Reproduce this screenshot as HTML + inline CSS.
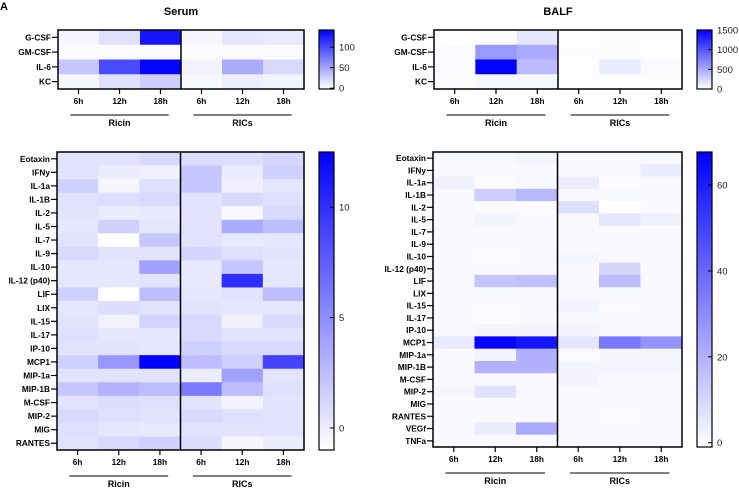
<!DOCTYPE html>
<html><head><meta charset="utf-8"><style>
body{margin:0;background:#fff;}
svg{display:block;font-family:"Liberation Sans",Arial,sans-serif;}
</style></head><body>
<svg id="fig" width="739" height="490"></svg>
<script>
const timepoints = ["6h","12h","18h","6h","12h","18h"];
const groups = ["Ricin","RICs"];
const topRows = ["G-CSF","GM-CSF","IL-6","KC"];
const serumLowRows = ["Eotaxin","IFNy","IL-1a","IL-1B","IL-2","IL-5","IL-7","IL-9","IL-10","IL-12 (p40)","LIF","LIX","IL-15","IL-17","IP-10","MCP1","MIP-1a","MIP-1B","M-CSF","MIP-2","MIG","RANTES"];
const balfLowRows = ["Eotaxin","IFNy","IL-1a","IL-1B","IL-2","IL-5","IL-7","IL-9","IL-10","IL-12 (p40)","LIF","LIX","IL-15","IL-17","IP-10","MCP1","MIP-1a","MIP-1B","M-CSF","MIP-2","MIG","RANTES","VEGf","TNFa"];
const serumTopValues = [
 [3,15,130,3,12,10],
 [0,0,0,0,0,0],
 [30,100,140,5,45,20],
 [3,15,25,2,8,5]];
const serumLowValues = [
 [0.5,0.5,1,0.8,0.8,1.2],
 [0.5,0,-0.2,2,0,1.5],
 [1.5,-0.5,0.7,2,-0.2,0.3],
 [0.5,0.8,1,0.5,1,0.7],
 [0.5,0,0.2,0.5,-0.7,1],
 [0.3,1.5,0.3,0.5,3.5,2.5],
 [0.5,-1,2,0.5,0.2,0.3],
 [1,0.5,0.5,1.3,0.7,0.5],
 [0.3,0.3,4,0.2,2,0.3],
 [0.3,0.3,0.5,0.2,10,0.3],
 [1.5,-1,2.5,0.3,0.5,2.5],
 [0.3,0.8,0.5,0.5,0.3,0.3],
 [0.5,-0.3,1.3,1,-0.2,1],
 [0.7,0.3,0.3,1,0.5,0.5],
 [0.5,0.5,0.3,1.5,1,1],
 [1.5,4.5,12.5,2.5,1.5,9],
 [0.5,0.5,0.5,0,4,0.5],
 [2,3,2.5,6,2.5,0.7],
 [0.5,0.8,0.7,0.5,-0.3,0.5],
 [1,0.7,0.5,1,0.7,0.5],
 [0.7,0.3,0.2,0.5,0.5,0.5],
 [0.5,1,1.5,0.8,-0.5,0]];
const balfTopValues = [
 [10,20,150,10,20,20],
 [30,600,500,20,20,10],
 [30,1500,400,10,120,30],
 [20,50,50,10,10,10]];
const balfLowValues = [
 [1,1,2,0.5,0.5,1],
 [0.5,0.5,0.5,0.5,0.5,4],
 [3,0,1,4,0,1],
 [0.5,12,18,1,1,0.5],
 [0.5,0,0,8,-1,0.5],
 [0.5,2,0.5,0.5,6,3],
 [0.5,0.5,0.5,0.5,0.5,0.5],
 [0.5,0.5,0.5,0.5,0.5,0.5],
 [0.5,0.3,0.5,1.5,0.5,0.5],
 [0.5,0.5,0.5,0.5,10,0.5],
 [1,15,16,0.5,17,0.5],
 [0.5,1,1,1,1,1],
 [0.5,0.3,0.5,2,0.3,0.5],
 [0.5,0.3,0.5,1,0.5,0.5],
 [1,2,2,2,1,1],
 [5,67,62,6,35,28],
 [0.5,2,20,0,1.5,1.5],
 [0.5,20,20,2,2,2],
 [0.5,0.5,0.5,2,0.5,0.5],
 [1.5,7,1,0.5,0.5,0.5],
 [0.5,0.5,0.5,0.5,0.5,0.5],
 [0.5,0.5,0.5,0.5,0,0.5],
 [0.5,4,22,0.5,0.5,0.5],
 [0.5,0.5,0.5,0.5,0.5,0.5]];
const serumTopTicks = [0,50,100];
const serumLowTicks = [0,5,10];
const balfTopTicks = [0,500,1000,1500];
const balfLowTicks = [0,20,40,60];

const NS="http://www.w3.org/2000/svg";
const svg=document.getElementById('fig');
function el(tag,attrs,parent,text){const e=document.createElementNS(NS,tag);for(const k in attrs)e.setAttribute(k,attrs[k]);if(text!==undefined)e.textContent=text;(parent||svg).appendChild(e);return e;}
function color(t){t=Math.max(0,Math.min(1,t));const c=Math.round(255*(1-t));return `rgb(${c},${c},255)`;}

function heatmap(p){
  const g=el('g',{});
  
  
  const nR=p.rows.length,nC=timepoints.length;
  const cw=(p.x1-p.x0)/nC,rh=(p.y1-p.y0)/nR;
  const sc=v=>(v-p.vmin)/(p.vmax-p.vmin);
  p.values.forEach((row,i)=>row.forEach((v,j)=>{
    const r=el('rect',{x:p.x0+j*cw,y:p.y0+i*rh,width:cw+0.4,height:rh+0.4,fill:color(sc(v))},g);
    
    
  }));
  el('rect',{x:p.x0,y:p.y0,width:p.x1-p.x0,height:p.y1-p.y0,fill:'none',stroke:'#000','stroke-width':1.5},g);
  const mid=p.x0+3*cw;
  el('line',{x1:mid,x2:mid,y1:p.y0,y2:p.y1,stroke:'#000','stroke-width':1.5},g);
  p.rows.forEach((name,i)=>{
    const y=p.y0+(i+0.5)*rh;
    el('line',{x1:p.x0-6,x2:p.x0,y1:y,y2:y,stroke:'#000','stroke-width':1.2},g);
    const t=el('text',{x:p.x0-7,y:y+3,'text-anchor':'end','font-size':8.3,'font-weight':'bold'},g,name);
    
    
  });
  timepoints.forEach((tp,j)=>{
    const x=p.x0+(j+0.5)*cw;
    el('line',{x1:x,x2:x,y1:p.y1,y2:p.y1+5,stroke:'#000','stroke-width':1.2},g);
    const t=el('text',{x:x,y:p.y1+15,'text-anchor':'middle','font-size':8.3,'font-weight':'bold'},g,tp);
    
    
  });
  groups.forEach((gn,k)=>{
    const a=p.x0+k*3*cw+cw*0.3,b=p.x0+(k*3+3)*cw-cw*0.3;
    el('line',{x1:a,x2:b,y1:p.y1+26,y2:p.y1+26,stroke:'#555','stroke-width':1.4},g);
    const t=el('text',{x:(a+b)/2,y:p.y1+37,'text-anchor':'middle','font-size':9,'font-weight':'bold'},g,gn);
    
    
  });
  // colorbar
  const cb=el('g',{},g);
  
  
  const gid='grad'+p.name;
  const defs=el('defs',{},cb);
  const lg=el('linearGradient',{id:gid,x1:0,y1:1,x2:0,y2:0},defs);
  el('stop',{offset:0,'stop-color':'#fff'},lg);
  el('stop',{offset:1,'stop-color':'#0000ff'},lg);
  el('rect',{x:p.cx,y:p.y0,width:15,height:p.y1-p.y0,fill:`url(#${gid})`,stroke:'#000','stroke-width':1.2},cb);
  p.ticks.forEach(v=>{
    const y=p.y1-sc(v)*(p.y1-p.y0);
    el('line',{x1:p.cx+15,x2:p.cx+11,y1:y,y2:y,stroke:'#000','stroke-width':1},cb);
    const t=el('text',{x:p.cx+20,y:y+3.5,'font-size':9.5,fill:'#222'},cb,String(v));
    
    
  });
}

heatmap({name:'serum-top-heatmap',rows:topRows,values:serumTopValues,x0:58,x1:304,y0:30,y1:89,cx:319,vmin:-2,vmax:142,ticks:serumTopTicks});
heatmap({name:'serum-low-heatmap',rows:serumLowRows,values:serumLowValues,x0:57,x1:304,y0:152,y1:450,cx:319,vmin:-1,vmax:12.5,ticks:serumLowTicks});
heatmap({name:'balf-top-heatmap',rows:topRows,values:balfTopValues,x0:434,x1:682,y0:30,y1:89,cx:697,vmin:0,vmax:1500,ticks:balfTopTicks});
heatmap({name:'balf-low-heatmap',rows:balfLowRows,values:balfLowValues,x0:433,x1:682,y0:152,y1:447,cx:697,vmin:-1,vmax:67.7,ticks:balfLowTicks});

const t1=el('text',{x:181,y:15,'text-anchor':'middle','font-size':11,'font-weight':'bold'},svg,'Serum');


const t2=el('text',{x:558,y:15,'text-anchor':'middle','font-size':11,'font-weight':'bold'},svg,'BALF');


const t3=el('text',{x:0,y:10,'font-size':11,'font-weight':'bold'},svg,'A');


</script>
</body></html>
